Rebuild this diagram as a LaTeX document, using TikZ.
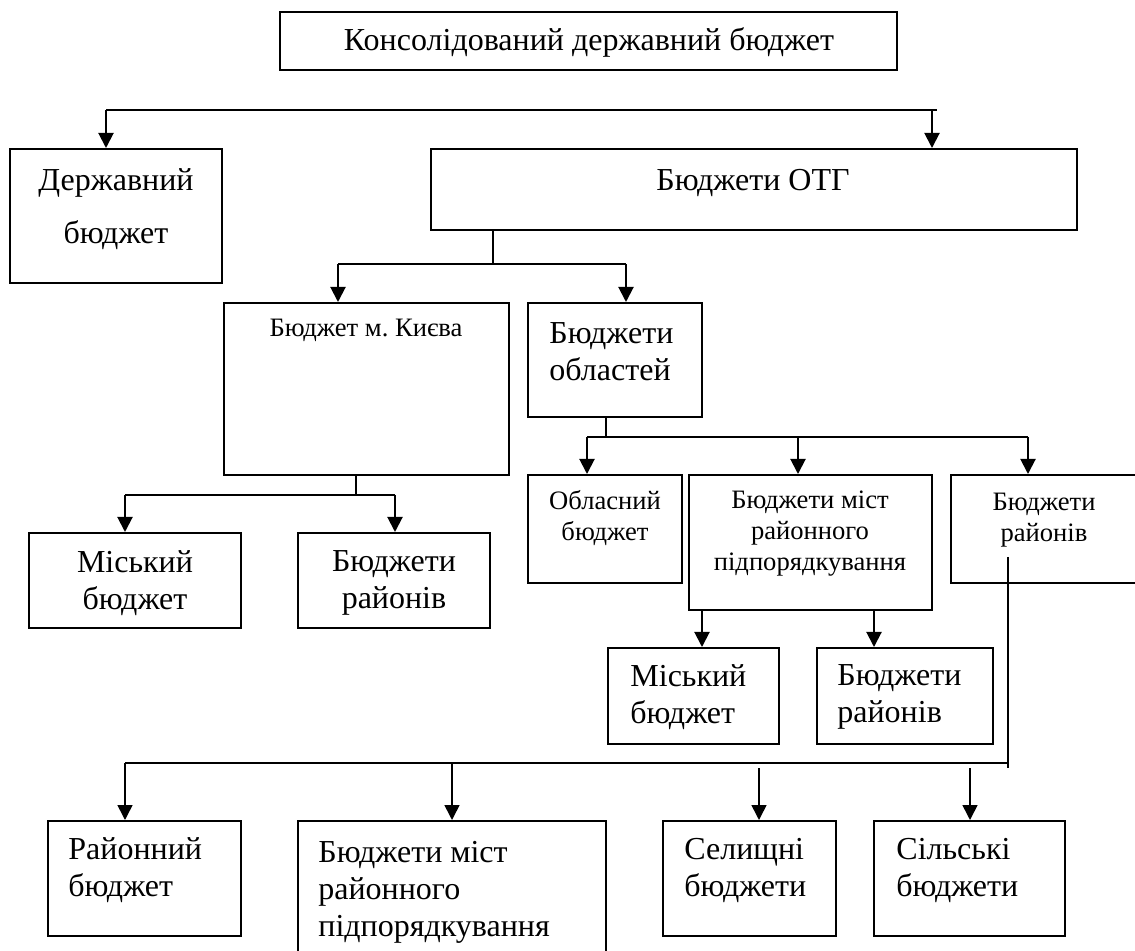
\documentclass[tikz,border=0pt]{standalone}
\usepackage{fontspec}
\setmainfont{Liberation Serif}
\usetikzlibrary{arrows.meta,fit}
\frenchspacing

\tikzstyle{box}=[draw,line width=1pt,inner sep=0pt]
\tikzstyle{big}=[font=\fontsize{16}{18.5}\selectfont,inner sep=0pt,align=center]
\tikzstyle{small}=[font=\fontsize{13.3}{15.5}\selectfont,inner sep=0pt,align=center]
\tikzstyle{branch}=[draw,line width=1pt]
\tikzstyle{arrow}=[draw,line width=1pt,-{Triangle[length=7.5pt,width=7.5pt]}]

\begin{document}
\begin{tikzpicture}[x=0.5pt,y=-0.5pt]
	\useasboundingbox (0,0) rectangle (1135,951);
	% boxes
	\node[box,fit={(280,12) (897,70)}] (cons) {};
	\node[box,fit={(10,149) (222,283)}] (derzh) {};
	\node[box,fit={(431,149) (1077,230)}] (otg) {};
	\node[box,fit={(224,303) (509,475)}] (kyiv) {};
	\node[box,fit={(528,303) (702,417)}] (obl) {};
	\node[box,fit={(528,475) (682,583)}] (oblb) {};
	\node[box,fit={(689,475) (932,610)}] (mist) {};
	\node[box,fit={(951,475) (1140,583)}] (rai) {};
	\node[box,fit={(29,533) (241,628)}] (kmisk) {};
	\node[box,fit={(298,533) (490,628)}] (krai) {};
	\node[box,fit={(608,648) (779,744)}] (misk) {};
	\node[box,fit={(817,648) (993,744)}] (mrai) {};
	\node[box,fit={(48,821) (241,936)}] (raib) {};
	\node[box,fit={(298,821) (606,960)}] (rmist) {};
	\node[box,fit={(663,821) (836,936)}] (sel) {};
	\node[box,fit={(874,821) (1065,936)}] (sil) {};
	% texts
	\node[big] (tcons) at (589,42) {Консолідований державний бюджет};
	\node[big,font=\fontsize{16}{26.5}\selectfont] (tderzh) at (116,209) {Державний\\бюджет};
	\node[big] (totg) at (753,183) {Бюджети ОТГ};
	\node[small] (tkyiv) at (366,330) {Бюджет м. Києва};
	\node[big,anchor=west,align=left] (tobl) at (549,352) {Бюджети\\областей};
	\node[small] (toblb) at (605,518) {Обласний\\бюджет};
	\node[small] (tmist) at (810,534) {Бюджети міст\\районного\\підпорядкування};
	\node[small] (trai) at (1044,520) {Бюджети\\районів};
	\node[big] (tkmisk) at (135,583) {Міський\\бюджет};
	\node[big] (tkrai) at (394,583) {Бюджети\\районів};
	\node[big,anchor=west,align=left] (tmisk) at (630,697) {Міський\\бюджет};
	\node[big,anchor=west,align=left] (tmrai) at (837,697) {Бюджети\\районів};
	\node[big,anchor=west,align=left] (traib) at (68,870) {Районний\\бюджет};
	\node[big,anchor=west,align=left] (trmist) at (318,892) {Бюджети міст\\районного\\підпорядкування};
	\node[big,anchor=west,align=left] (tsel) at (684,870) {Селищні\\бюджети};
	\node[big,anchor=west,align=left] (tsil) at (896,870) {Сільські\\бюджети};
	% junction points
	\coordinate (j1a) at (106,110);
	\coordinate (j1b) at (932,110);
	\coordinate (j1e) at (937,110);
	\coordinate (j2) at (493,264);
	\coordinate (j2a) at (338,264);
	\coordinate (j2b) at (626,264);
	\coordinate (j3) at (606,437);
	\coordinate (j3a) at (587,437);
	\coordinate (j3b) at (798,437);
	\coordinate (j3c) at (1028,437);
	\coordinate (j4) at (356,495);
	\coordinate (j4a) at (125,495);
	\coordinate (j4b) at (395,495);
	\coordinate (j5a) at (702,610);
	\coordinate (j5b) at (874,610);
	\coordinate (j6) at (1008,557);
	\coordinate (j6e) at (1008,768);
	\coordinate (j6a) at (125,763);
	\coordinate (j6b) at (452,763);
	\coordinate (j6c) at (759,768);
	\coordinate (j6d) at (970,768);
	% branch lines
	\path[branch] (j1a) -- (j1e);
	\path[branch,line width=0.6pt] (otg.south -| j2) -- (j2);
	\path[branch] (j2a) -- (j2b);
	\path[branch] (obl.south -| j3) -- (j3);
	\path[branch] (j3a) -- (j3c);
	\path[branch] (kyiv.south -| j4) -- (j4);
	\path[branch] (j4a) -- (j4b);
	\path[branch,line width=0.8pt] (j6) -- (j6e);
	\path[branch,line width=0.8pt] (j6a) -- (j6 |- j6a);
	% arrows
	\foreach \source/\dest in {j1a/derzh, j1b/otg, j2a/kyiv, j2b/obl, j3a/oblb, j3b/mist, j3c/rai, j4a/kmisk, j4b/krai}
		\path[arrow] (\source) -- (\source |- \dest.north);
	\foreach \source/\dest in {j5a/misk, j5b/mrai}
		\path[arrow] (\source) -- (\source |- \dest.north);
	\foreach \source/\dest in {j6a/raib, j6b/rmist, j6c/sel, j6d/sil}
		\path[arrow,line width=0.8pt] (\source) -- (\source |- \dest.north);
\end{tikzpicture}
\end{document}
